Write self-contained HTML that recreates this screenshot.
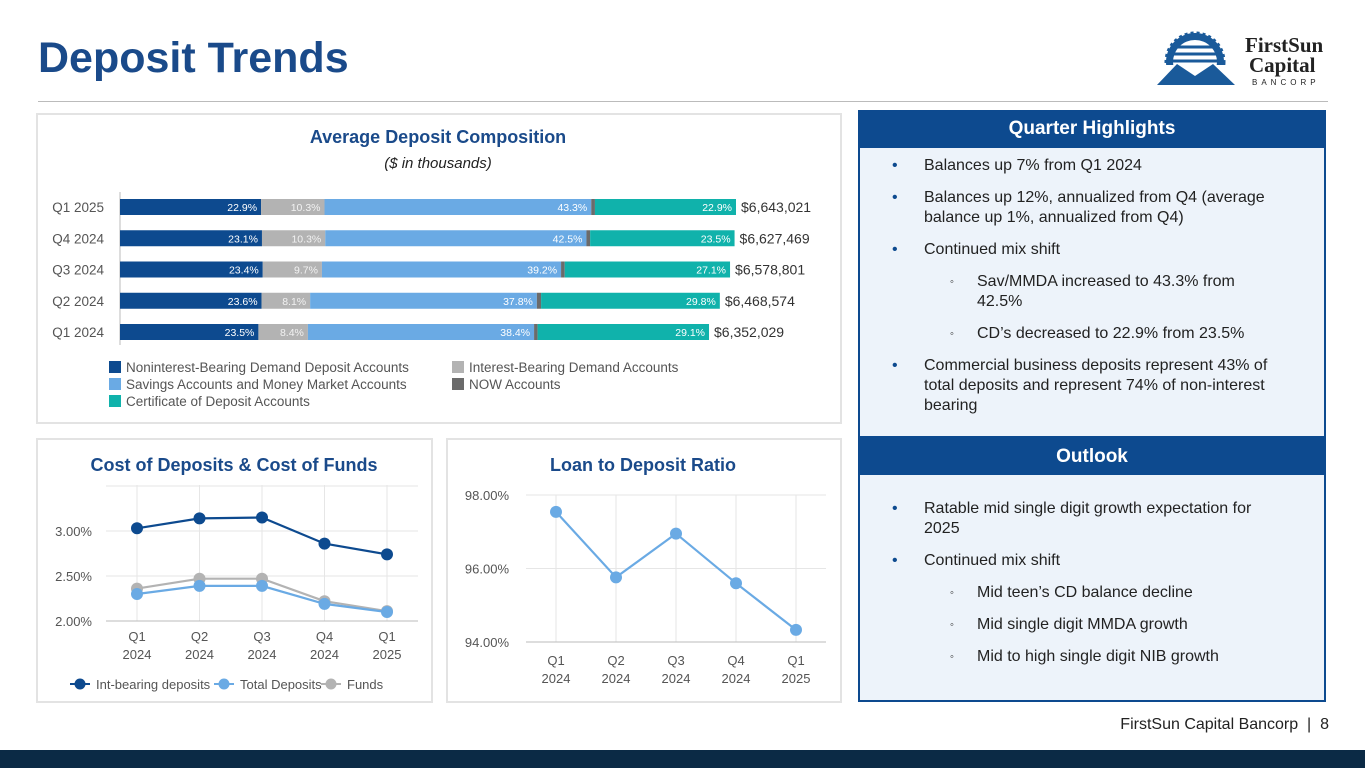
<!DOCTYPE html>
<html><head><meta charset="utf-8"><style>
body{margin:0;width:1365px;height:768px;position:relative;background:#fff;font-family:"Liberation Sans",Arial,sans-serif;overflow:hidden}
.abs{position:absolute}
.panel{position:absolute;border:2px solid #e3e3e3;box-sizing:border-box;background:#fff}
.hdr{position:absolute;left:858px;width:468px;background:#0d4a8f;color:#fff;font-weight:bold;font-size:19px;text-align:center;box-sizing:border-box}
.body{position:absolute;left:858px;width:468px;background:#edf3fa;border:2px solid #0d4a8f;border-top:none;box-sizing:border-box;font-size:16px;color:#222;line-height:20px}
.b{position:absolute;left:34px}
.b i{position:absolute;left:-2px;font-style:normal;color:#0d4a8f}
.t{position:absolute;left:64px}
.s{position:absolute;left:117px}
.s i{position:absolute;left:-27px;font-style:normal;font-size:11px}
</style></head><body>
<div class="abs" style="left:38px;top:34px;font-size:43px;font-weight:bold;color:#1a4a8a">Deposit Trends</div>
<div class="abs" style="left:38px;top:101px;width:1290px;height:1px;background:#bbb"></div>
<div class="abs" style="left:1155px;top:30px;width:180px;height:60px">
<svg width="180" height="60"><circle cx="40" cy="32" r="29" fill="#1a5a9a" stroke="#1a5a9a" stroke-width="3" stroke-dasharray="3 3"/><circle cx="40" cy="32" r="22" fill="#fff"/><g stroke="#1a5a9a" stroke-width="3"><line x1="20" y1="17" x2="60" y2="17"/><line x1="18" y1="24" x2="62" y2="24"/><line x1="18" y1="31" x2="62" y2="31"/></g><rect x="0" y="35" width="82" height="25" fill="#fff"/><polygon points="2,55 22,34 40,46 58,34 80,55" fill="#1a5a9a"/><text x="90" y="22" font-family="Liberation Serif" font-weight="bold" font-size="21" fill="#222">FirstSun</text><text x="94" y="42" font-family="Liberation Serif" font-weight="bold" font-size="21" fill="#222">Capital</text><text x="97" y="55" font-size="8" letter-spacing="4" fill="#222">BANCORP</text></svg></div>

<div class="panel" style="left:36px;top:113px;width:806px;height:311px"></div>
<div class="panel" style="left:36px;top:438px;width:397px;height:265px"></div>
<div class="panel" style="left:446px;top:438px;width:396px;height:265px"></div>

<svg class="abs" style="left:0;top:0" width="858" height="710" id="charts"></svg>

<div class="hdr" style="top:110px;height:38px;line-height:38px">Quarter Highlights</div>
<div class="body" style="top:148px;height:290px">
<div class="b" style="top:8px"><i>•</i></div><div class="t" style="top:8px">Balances up 7% from Q1 2024</div>
<div class="b" style="top:40px"><i>•</i></div><div class="t" style="top:40px;width:365px">Balances up 12%, annualized from Q4 (average balance up 1%, annualized from Q4)</div>
<div class="b" style="top:92px"><i>•</i></div><div class="t" style="top:92px">Continued mix shift</div>
<div class="s" style="top:124px;width:290px"><i>◦</i>Sav/MMDA increased to 43.3% from 42.5%</div>
<div class="s" style="top:176px"><i>◦</i>CD’s decreased to 22.9% from 23.5%</div>
<div class="b" style="top:208px"><i>•</i></div><div class="t" style="top:208px;width:370px">Commercial business deposits represent 43% of total deposits and represent 74% of non-interest bearing</div>
</div>
<div class="hdr" style="top:438px;height:37px;line-height:37px">Outlook</div>
<div class="body" style="top:475px;height:227px">
<div class="b" style="top:24px"><i>•</i></div><div class="t" style="top:24px;width:365px">Ratable mid single digit growth expectation for 2025</div>
<div class="b" style="top:76px"><i>•</i></div><div class="t" style="top:76px">Continued mix shift</div>
<div class="s" style="top:108px"><i>◦</i>Mid teen’s CD balance decline</div>
<div class="s" style="top:140px"><i>◦</i>Mid single digit MMDA growth</div>
<div class="s" style="top:172px"><i>◦</i>Mid to high single digit NIB growth</div>
</div>
<div class="abs" style="right:36px;top:716px;font-size:16px;color:#222">FirstSun Capital Bancorp &nbsp;|&nbsp; 8</div>
<div class="abs" style="left:0;top:750px;width:1365px;height:18px;background:#0b2a45"></div>

<script>
const barCats=["Q1 2025","Q4 2024","Q3 2024","Q2 2024","Q1 2024"];
const totals=[6643021,6627469,6578801,6468574,6352029];
const nib=[22.9,23.1,23.4,23.6,23.5];
const ibd=[10.3,10.3,9.7,8.1,8.4];
const sav=[43.3,42.5,39.2,37.8,38.4];
const cd=[22.9,23.5,27.1,29.8,29.1];
const costCats=["Q1|2024","Q2|2024","Q3|2024","Q4|2024","Q1|2025"];
const intBearing=[3.03,3.14,3.15,2.86,2.74];
const totalDep=[2.30,2.39,2.39,2.19,2.10];
const funds=[2.36,2.47,2.47,2.22,2.11];
const costTicks=[2.0,2.5,3.0];
const ltdCats=["Q1|2024","Q2|2024","Q3|2024","Q4|2024","Q1|2025"];
const ltd=[97.54,95.76,96.95,95.6,94.33];
const ltdTicks=[94,96,98];

const svg=document.getElementById('charts');const NS="http://www.w3.org/2000/svg";
function el(tag,a,txt){const e=document.createElementNS(NS,tag);for(const k in a)e.setAttribute(k,a[k]);if(txt!=null)e.textContent=txt;svg.appendChild(e);return e;}
function tx(x,y,s,o){return el('text',Object.assign({x:x,y:y,'font-size':13,fill:'#555'},o||{}),s);}

let t=tx(438,143,"Average Deposit Composition",{'font-size':18,'font-weight':'bold',fill:'#1a4a8a','text-anchor':'middle'});

t=tx(438,168,"($ in thousands)",{'font-size':15,'font-style':'italic',fill:'#222','text-anchor':'middle'});

const bx0=120,pxPer=616/6643021;
const by=i=>207+i*31.25;
const cols=['#0d4a8f','#b3b3b3','#6aaae4','#6b6b6b','#10b2ab'];
let ax=el('line',{x1:bx0,x2:bx0,y1:192,y2:345,stroke:'#bbb'});
barCats.forEach((c,i)=>{
 const y=by(i);const W=totals[i]*pxPer;
 const now=100-nib[i]-ibd[i]-sav[i]-cd[i];
 const segs=[nib[i],ibd[i],sav[i],now,cd[i]];
 let x=bx0;
 const l=tx(104,y+5,c,{'text-anchor':'end','font-size':13.5});
 segs.forEach((v,k)=>{const w=W*v/100;
  const r=el('rect',{x:x,y:y-8,width:Math.max(w,0),height:16,fill:cols[k]});
  
  if(k!==3){const lb=tx(x+w-4,y+4,v.toFixed(1)+'%',{'font-size':10.5,fill:k===1?'#f2f2f2':'#fff','text-anchor':'end'});}
  x+=w;});
 const tl=tx(x+5,y+5,'$'+totals[i].toLocaleString('en-US'),{'font-size':14,fill:'#333'});
 
});
const leg=[["Noninterest-Bearing Demand Deposit Accounts",109,372,0],["Interest-Bearing Demand Accounts",452,372,1],["Savings Accounts and Money Market Accounts",109,389,2],["NOW Accounts",452,389,3],["Certificate of Deposit Accounts",109,406,4]];
leg.forEach(L=>{const r=el('rect',{x:L[1],y:L[2]-11,width:12,height:12,fill:cols[L[3]]});
 const l=tx(L[1]+17,L[2],L[0],{'font-size':13.5});});

t=tx(234,471,"Cost of Deposits & Cost of Funds",{'font-size':18,'font-weight':'bold',fill:'#1a4a8a','text-anchor':'middle'});

const cx=i=>137+i*62.5, cy=v=>621-(v-2)*90;
for(let i=0;i<5;i++){const g=el('line',{x1:cx(i),x2:cx(i),y1:485,y2:621,stroke:'#e6e6e6'});}
el('line',{x1:106,x2:418,y1:cy(3.5),y2:cy(3.5),stroke:'#e6e6e6'});
costTicks.forEach(v=>{const g=el('line',{x1:106,x2:418,y1:cy(v),y2:cy(v),stroke:v===2?'#bbb':'#e6e6e6'});
 const l=tx(92,cy(v)+5,v.toFixed(2)+'%',{'text-anchor':'end',fill:'#555'});});
costCats.forEach((c,i)=>{const p=c.split('|');
 const a=tx(cx(i),641,p[0],{'text-anchor':'middle'});
 const b=tx(cx(i),659,p[1],{'text-anchor':'middle'});});
function series(vals,xf,yf,col,name,r){const pl=el('polyline',{points:vals.map((v,i)=>xf(i)+','+yf(v)).join(' '),fill:'none',stroke:col,'stroke-width':2.2});
 
 vals.forEach((v,i)=>{const c=el('circle',{cx:xf(i),cy:yf(v),r:r,fill:col});});}
series(funds,cx,cy,'#b3b3b3','funds',6);
series(totalDep,cx,cy,'#6aaae4','total-deposits',6);
series(intBearing,cx,cy,'#0d4a8f','int-bearing',6);
[["Int-bearing deposits",80,'#0d4a8f'],["Total Deposits",224,'#6aaae4'],["Funds",331,'#b3b3b3']].forEach(L=>{
 const ln=el('line',{x1:L[1]-10,x2:L[1]+10,y1:684,y2:684,stroke:L[2],'stroke-width':2});
 const c=el('circle',{cx:L[1],cy:684,r:5.5,fill:L[2]});
 const l=tx(L[1]+16,689,L[0]);});

t=tx(643,471,"Loan to Deposit Ratio",{'font-size':18,'font-weight':'bold',fill:'#1a4a8a','text-anchor':'middle'});

const lx=i=>556+i*60, ly=v=>642-(v-94)*36.75;
for(let i=0;i<5;i++){const g=el('line',{x1:lx(i),x2:lx(i),y1:ly(98),y2:ly(94),stroke:'#e6e6e6'});}
ltdTicks.forEach(v=>{const g=el('line',{x1:526,x2:826,y1:ly(v),y2:ly(v),stroke:v===94?'#bbb':'#e6e6e6'});
 const l=tx(509,ly(v)+5,v.toFixed(2)+'%',{'text-anchor':'end'});});
ltdCats.forEach((c,i)=>{const p=c.split('|');
 const a=tx(lx(i),665,p[0],{'text-anchor':'middle'});
 const b=tx(lx(i),683,p[1],{'text-anchor':'middle'});});
series(ltd,lx,ly,'#6aaae4','ltd',6);
</script>
</body></html>
